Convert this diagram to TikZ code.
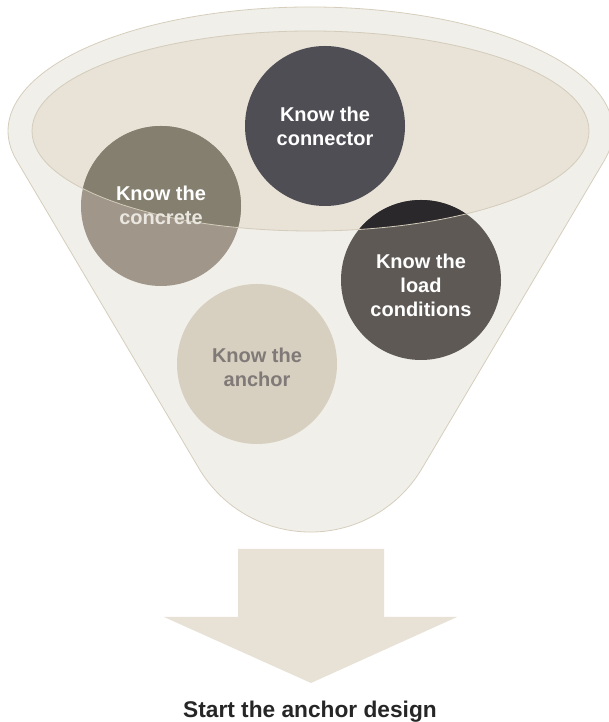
\documentclass[tikz,border=0pt]{standalone}
\usepackage{fontspec}
\setmainfont{Liberation Sans}
\definecolor{funnelfill}{HTML}{F0EFEA}
\definecolor{funnelline}{HTML}{D6CEBC}
\definecolor{bowlfill}{HTML}{E8E2D7}
\definecolor{bowlline}{HTML}{D4CCBB}
\definecolor{conncol}{HTML}{504E55}
\definecolor{concin}{HTML}{857F6F}
\definecolor{concout}{HTML}{A09689}
\definecolor{loadin}{HTML}{2A282B}
\definecolor{loadout}{HTML}{5E5955}
\definecolor{anchcol}{HTML}{D7CFBF}
\definecolor{anchtextcol}{HTML}{7F7977}
\definecolor{concword}{HTML}{EAE6E0}
\definecolor{arrowcol}{HTML}{E8E2D6}
\definecolor{captext}{HTML}{262626}
\begin{document}
\begin{tikzpicture}[x=1pt,y=1pt,
  disc/.style={circle, minimum size=160pt, inner sep=0pt, draw=none},
  disctext/.style={align=center, font=\fontsize{20}{24}\selectfont\bfseries, text=white, inner sep=0pt}]
\useasboundingbox (0,0) rectangle (609,722);
% funnel body
\path[fill=funnelfill, draw=funnelline, line width=0.8pt]
  (16.36,562.05) -- (198.7,254.0)
  arc[start angle=210.4, end angle=329.6, radius=129.6]
  -- (604.64,562.05)
  arc[start angle=-13.5, end angle=193.5, x radius=302.5, y radius=124]
  -- cycle;
% inner bowl
\path[fill=bowlfill] (310.5,591) ellipse [x radius=278.5, y radius=100];
% circles
\node[disc, fill=conncol] (conn) at (325,596) {};
\node[disc, fill=concout] (conc) at (161,516) {};
\node[disc, fill=loadout] (load) at (421,442) {};
\node[disc, fill=anchcol] (anch) at (257,358) {};
\begin{scope}
  \clip (310.5,591) ellipse [x radius=278.5, y radius=100];
  \fill[concin] (conc.center) circle[radius=80];
  \fill[loadin] (load.center) circle[radius=80];
\end{scope}
\draw[bowlline, line width=0.8pt] (310.5,591) ellipse [x radius=278.5, y radius=100];
% texts
\node[disctext] (conntext) at (325,596) {Know the\\connector};
\node[disctext] (conctext) at (161,517) {Know the\\\textcolor{concword}{concrete}};
\node[disctext] (loadtext) at (421,437) {Know the\\load\\conditions};
\node[disctext, text=anchtextcol] (anchtext) at (257,354.5) {Know the\\anchor};
% arrow
\path[fill=arrowcol] (238,173) -- (384,173) -- (384,105) -- (457,105)
  -- (311,39) -- (164,105) -- (238,105) -- cycle;
\node[font=\fontsize{22.7}{27}\selectfont\bfseries, text=captext, anchor=base, inner sep=0pt] (caption) at (310,5) {Start the anchor design};
\end{tikzpicture}
\end{document}
